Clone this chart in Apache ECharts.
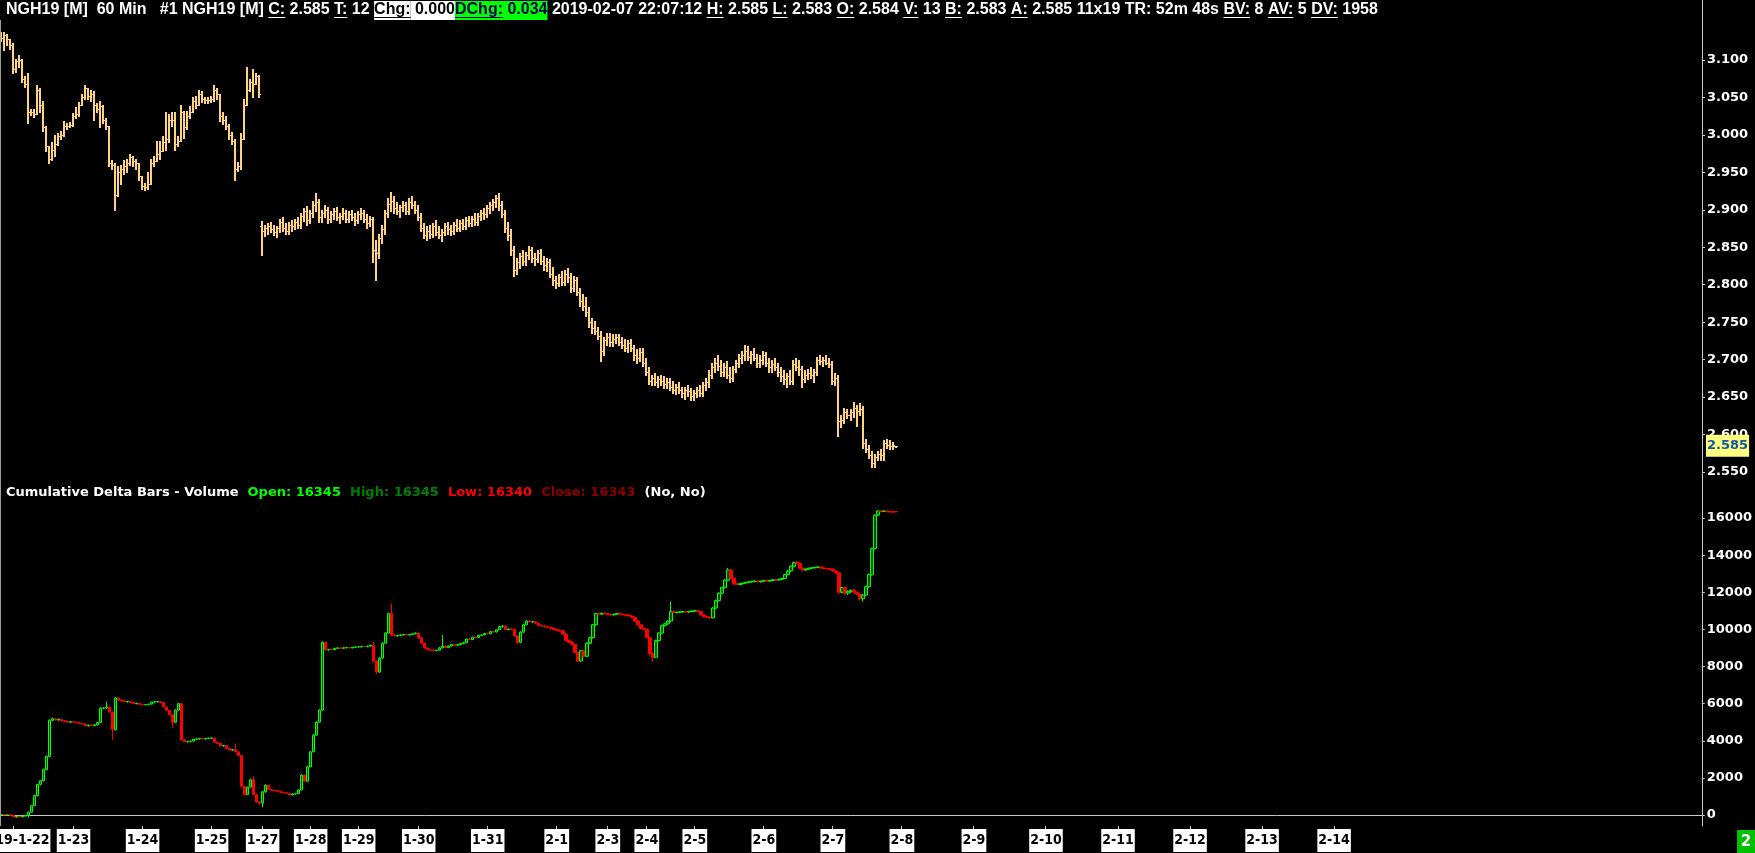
<!DOCTYPE html>
<html><head><meta charset="utf-8">
<script src="https://cdn.jsdelivr.net/npm/echarts@6/dist/echarts.min.js"></script>
<style>html,body{margin:0;padding:0;background:#000;overflow:hidden}#c{width:1755px;height:853px;}</style>
</head><body><div id="c"></div>
<script>
// ---------- DATA ----------
// price bars, hourly, [open, high, low, close]
const priceBars = [
[3.128,3.137,3.125,3.130],[3.130,3.138,3.113,3.133],[3.133,3.135,3.120,3.128],[3.128,3.128,3.115,3.120],[3.120,3.123,3.083,3.088],
[3.088,3.102,3.084,3.098],[3.098,3.107,3.090,3.100],[3.100,3.101,3.070,3.075],[3.075,3.078,3.064,3.068],[3.068,3.083,3.016,3.030],
[3.030,3.035,3.026,3.030],[3.030,3.034,3.024,3.028],[3.028,3.066,3.028,3.060],[3.060,3.062,3.030,3.040],[3.040,3.045,3.005,3.010],
[3.010,3.012,2.978,2.985],[2.985,2.985,2.962,2.968],[2.968,2.990,2.966,2.980],[2.980,3.000,2.972,2.988],[2.988,3.003,2.986,2.998],
[2.998,3.005,2.995,3.000],[3.000,3.018,2.998,3.012],[3.012,3.016,3.008,3.012],[3.012,3.017,3.010,3.013],[3.013,3.029,3.012,3.025],
[3.025,3.037,3.022,3.028],[3.028,3.044,3.025,3.040],[3.040,3.054,3.040,3.050],[3.050,3.067,3.048,3.062],[3.062,3.063,3.048,3.052],
[3.052,3.060,3.045,3.055],[3.055,3.058,3.020,3.040],[3.040,3.042,3.030,3.035],[3.035,3.045,3.010,3.038],[3.038,3.040,3.016,3.020],
[3.020,3.022,3.008,3.012],[3.012,3.012,2.958,2.962],[2.962,2.966,2.955,2.960],[2.960,2.962,2.900,2.920],[2.920,2.958,2.918,2.950],
[2.950,2.960,2.935,2.955],[2.955,2.966,2.948,2.958],[2.958,2.968,2.950,2.962],[2.962,2.975,2.960,2.970],[2.970,2.972,2.958,2.965],
[2.965,2.968,2.955,2.962],[2.962,2.962,2.940,2.945],[2.945,2.945,2.928,2.932],[2.932,2.936,2.926,2.930],[2.930,2.950,2.928,2.935],
[2.935,2.968,2.935,2.962],[2.962,2.972,2.958,2.965],[2.965,2.992,2.965,2.975],[2.975,2.992,2.968,2.978],[2.978,2.998,2.978,2.990],
[2.990,3.030,2.980,2.995],[2.995,3.028,2.990,3.020],[3.020,3.030,3.012,3.020],[3.020,3.030,2.980,2.988],[2.988,2.998,2.985,2.992],
[2.992,3.040,2.992,3.030],[3.030,3.032,2.996,3.010],[3.010,3.032,3.008,3.025],[3.025,3.038,3.022,3.030],[3.030,3.050,3.030,3.045],
[3.045,3.052,3.036,3.040],[3.040,3.060,3.040,3.055],[3.055,3.058,3.044,3.048],[3.048,3.050,3.042,3.046],[3.046,3.050,3.042,3.046],
[3.046,3.052,3.044,3.048],[3.048,3.066,3.045,3.060],[3.060,3.062,3.048,3.055],[3.055,3.055,3.018,3.025],[3.025,3.030,3.015,3.020],
[3.020,3.025,3.008,3.012],[3.012,3.015,2.994,3.000],[3.000,3.004,2.988,2.992],[2.992,2.995,2.940,2.955],[2.955,2.964,2.952,2.958],
[2.958,3.002,2.955,2.995],[2.995,3.048,2.995,3.040],[3.040,3.090,3.040,3.060],[3.060,3.075,3.058,3.070],[3.070,3.088,3.050,3.068],
[3.068,3.083,3.068,3.078],[3.078,3.080,3.050,3.055],
[2.878,2.885,2.840,2.872],[2.872,2.880,2.865,2.876],[2.876,2.882,2.868,2.878],[2.878,2.884,2.870,2.874],[2.874,2.880,2.866,2.870],
[2.870,2.878,2.864,2.876],[2.876,2.888,2.870,2.884],[2.884,2.890,2.872,2.876],[2.876,2.882,2.868,2.872],[2.872,2.884,2.868,2.880],
[2.880,2.886,2.872,2.878],[2.878,2.888,2.874,2.884],[2.884,2.890,2.876,2.880],[2.880,2.896,2.876,2.892],[2.892,2.902,2.885,2.898],
[2.898,2.905,2.880,2.886],[2.886,2.900,2.882,2.896],[2.896,2.912,2.890,2.906],[2.906,2.922,2.898,2.910],[2.910,2.914,2.884,2.890],
[2.890,2.900,2.884,2.896],[2.896,2.906,2.890,2.900],[2.900,2.904,2.882,2.888],[2.888,2.898,2.884,2.894],[2.894,2.902,2.888,2.898],
[2.898,2.904,2.886,2.890],[2.890,2.896,2.882,2.892],[2.892,2.902,2.888,2.896],[2.896,2.900,2.884,2.888],[2.888,2.898,2.884,2.894],
[2.894,2.900,2.886,2.890],[2.890,2.896,2.880,2.886],[2.886,2.898,2.882,2.894],[2.894,2.902,2.888,2.896],[2.896,2.900,2.884,2.888],
[2.888,2.894,2.876,2.882],[2.882,2.892,2.878,2.888],[2.888,2.890,2.830,2.846],[2.846,2.860,2.806,2.842],[2.842,2.868,2.836,2.862],
[2.862,2.880,2.856,2.874],[2.874,2.900,2.868,2.896],[2.896,2.916,2.890,2.908],[2.908,2.924,2.898,2.912],[2.912,2.918,2.896,2.902],
[2.902,2.910,2.894,2.898],[2.898,2.906,2.890,2.904],[2.904,2.912,2.898,2.906],[2.906,2.910,2.894,2.898],[2.898,2.916,2.894,2.910],
[2.910,2.918,2.902,2.906],[2.906,2.912,2.896,2.900],[2.900,2.906,2.886,2.890],[2.890,2.896,2.872,2.876],[2.876,2.882,2.862,2.866],
[2.866,2.878,2.860,2.872],[2.872,2.880,2.862,2.868],[2.868,2.882,2.864,2.878],[2.878,2.886,2.866,2.870],[2.870,2.878,2.862,2.866],
[2.866,2.874,2.858,2.870],[2.870,2.882,2.866,2.878],[2.878,2.884,2.868,2.874],[2.874,2.880,2.866,2.872],[2.872,2.884,2.868,2.880],
[2.880,2.888,2.872,2.876],[2.876,2.886,2.872,2.882],[2.882,2.888,2.874,2.878],[2.878,2.890,2.874,2.886],[2.886,2.892,2.878,2.882],
[2.882,2.892,2.878,2.888],[2.888,2.896,2.880,2.884],[2.884,2.896,2.880,2.892],[2.892,2.900,2.886,2.896],[2.896,2.902,2.888,2.894],
[2.894,2.906,2.890,2.902],[2.902,2.910,2.896,2.906],[2.906,2.914,2.900,2.910],[2.910,2.920,2.904,2.916],[2.916,2.922,2.900,2.906],
[2.906,2.912,2.890,2.894],[2.894,2.900,2.870,2.876],[2.876,2.884,2.860,2.866],[2.866,2.874,2.840,2.846],[2.846,2.852,2.812,2.820],
[2.820,2.836,2.814,2.830],[2.830,2.842,2.822,2.838],[2.838,2.846,2.826,2.832],[2.832,2.844,2.826,2.840],[2.840,2.852,2.834,2.846],
[2.846,2.850,2.830,2.836],[2.836,2.842,2.826,2.834],[2.834,2.846,2.830,2.842],[2.842,2.848,2.828,2.832],[2.832,2.838,2.820,2.826],
[2.826,2.836,2.818,2.830],[2.830,2.834,2.810,2.814],[2.814,2.824,2.800,2.806],[2.806,2.812,2.796,2.802],[2.802,2.814,2.798,2.810],
[2.810,2.818,2.800,2.804],[2.804,2.820,2.800,2.814],[2.814,2.822,2.804,2.810],[2.810,2.816,2.790,2.796],[2.796,2.812,2.792,2.806],
[2.806,2.810,2.786,2.790],[2.790,2.796,2.772,2.778],[2.778,2.788,2.766,2.772],[2.772,2.784,2.758,2.764],[2.764,2.770,2.744,2.750],
[2.750,2.756,2.736,2.742],[2.742,2.752,2.734,2.738],[2.738,2.744,2.728,2.732],[2.732,2.738,2.698,2.712],[2.712,2.730,2.706,2.726],
[2.726,2.736,2.720,2.730],[2.730,2.736,2.718,2.724],[2.724,2.734,2.718,2.728],[2.728,2.734,2.722,2.730],[2.730,2.734,2.720,2.724],
[2.724,2.730,2.716,2.720],[2.720,2.728,2.712,2.716],[2.716,2.726,2.710,2.722],[2.722,2.728,2.712,2.716],[2.716,2.720,2.700,2.706],
[2.706,2.714,2.696,2.702],[2.702,2.716,2.698,2.710],[2.710,2.716,2.692,2.696],[2.696,2.702,2.680,2.684],[2.684,2.690,2.668,2.672],
[2.672,2.680,2.666,2.676],[2.676,2.682,2.666,2.670],[2.670,2.678,2.664,2.674],[2.674,2.680,2.666,2.672],[2.672,2.678,2.662,2.668],
[2.668,2.676,2.662,2.670],[2.670,2.676,2.660,2.664],[2.664,2.672,2.656,2.660],[2.660,2.668,2.654,2.664],[2.664,2.670,2.656,2.660],
[2.660,2.664,2.650,2.656],[2.656,2.664,2.648,2.660],[2.660,2.666,2.652,2.658],[2.658,2.662,2.646,2.652],[2.652,2.660,2.646,2.656],
[2.656,2.664,2.650,2.660],[2.660,2.666,2.652,2.656],[2.656,2.670,2.652,2.666],[2.666,2.676,2.660,2.670],[2.670,2.686,2.664,2.680],
[2.680,2.696,2.676,2.690],[2.690,2.702,2.684,2.696],[2.696,2.706,2.686,2.692],[2.692,2.700,2.678,2.684],[2.684,2.696,2.678,2.690],
[2.690,2.698,2.676,2.680],[2.680,2.690,2.670,2.676],[2.676,2.692,2.672,2.688],[2.688,2.700,2.684,2.696],[2.696,2.708,2.690,2.702],
[2.702,2.712,2.696,2.706],[2.706,2.720,2.700,2.712],[2.712,2.718,2.700,2.704],[2.704,2.712,2.696,2.708],[2.708,2.716,2.700,2.702],
[2.702,2.708,2.690,2.696],[2.696,2.706,2.690,2.700],[2.700,2.712,2.694,2.706],[2.706,2.710,2.692,2.696],[2.696,2.702,2.684,2.690],
[2.690,2.700,2.684,2.694],[2.694,2.702,2.686,2.690],[2.690,2.696,2.678,2.684],[2.684,2.690,2.672,2.678],[2.678,2.686,2.668,2.674],
[2.674,2.682,2.664,2.678],[2.678,2.686,2.668,2.672],[2.672,2.700,2.668,2.694],[2.694,2.702,2.686,2.690],[2.690,2.700,2.680,2.688],
[2.688,2.692,2.664,2.674],[2.674,2.686,2.670,2.680],[2.680,2.688,2.674,2.682],[2.682,2.690,2.676,2.680],[2.680,2.688,2.670,2.684],
[2.684,2.704,2.680,2.700],[2.700,2.706,2.694,2.698],[2.698,2.704,2.692,2.700],[2.700,2.706,2.694,2.696],[2.696,2.702,2.690,2.694],
[2.694,2.698,2.668,2.672],[2.672,2.682,2.666,2.676],[2.676,2.680,2.598,2.618],[2.618,2.626,2.610,2.620],[2.620,2.636,2.616,2.630],
[2.630,2.634,2.622,2.626],[2.626,2.634,2.620,2.630],[2.630,2.644,2.624,2.636],[2.636,2.640,2.612,2.632],[2.632,2.642,2.626,2.634],
[2.634,2.638,2.582,2.588],[2.588,2.594,2.576,2.580],[2.580,2.586,2.568,2.572],[2.572,2.578,2.556,2.562],[2.562,2.574,2.556,2.570],
[2.570,2.578,2.566,2.574],[2.574,2.580,2.566,2.572],[2.572,2.592,2.566,2.588],[2.588,2.594,2.582,2.586],[2.586,2.592,2.580,2.584],
[2.584,2.590,2.580,2.586],[2.584,2.585,2.583,2.585]
];
// cumulative delta bars, hourly, [open, high, low, close]
const deltaBars = [
[0,20,-10,10],[10,20,0,0],[0,10,-10,0],[0,10,-10,-10],[-10,0,-120,-110],[-110,-60,-130,-70],[-70,-50,-120,-100],[-100,-40,-110,-60],
[-60,-20,-80,-30],[-30,180,-140,150],[150,520,140,500],[500,1100,480,1050],[1050,1680,1000,1650],[1650,1900,1600,1850],[1850,2500,1800,2450],
[2450,3200,2400,3150],[3150,5150,3100,5100],[5100,5250,5050,5180],[5180,5230,5100,5120],[5120,5200,5080,5150],[5150,5180,5050,5080],
[5080,5120,5000,5040],[5040,5080,4980,5000],[5000,5050,4960,5020],[5020,5060,4980,5000],[5000,5030,4950,4960],[4960,5000,4900,4920],
[4920,4950,4880,4900],[4900,4920,4790,4800],[4800,4860,4770,4840],[4840,4880,4800,4820],[4820,4880,4790,4860],[4860,5000,4840,4980],
[4980,5800,4960,5750],[5750,5800,5700,5760],[5760,6100,5740,5800],[5800,5850,5500,5550],[5550,5560,4050,4600],[4600,6350,4550,6300],
[6300,6320,6150,6200],[6200,6250,6100,6150],[6150,6180,6080,6100],[6100,6150,6050,6120],[6120,6140,6040,6060],[6060,6100,5980,6000],
[6000,6050,5960,6020],[6020,6040,5940,5960],[5960,5990,5920,5940],[5940,5980,5900,5950],[5950,5990,5920,5970],[5970,6100,5960,6080],
[6080,6130,6050,6100],[6100,6140,6060,6110],[6110,6130,6040,6060],[6060,6080,5800,5820],[5820,5850,5600,5640],[5640,5660,5380,5400],
[5400,5420,4700,5000],[5000,5700,4950,5650],[5650,6050,5600,6000],[6000,6020,4000,4050],[4050,4100,3920,3950],[3950,4000,3900,3960],
[3960,4000,3920,3980],[3980,4100,3960,4080],[4080,4120,4040,4100],[4100,4140,4060,4120],[4120,4150,4080,4100],[4100,4140,4060,4120],
[4120,4160,4090,4140],[4140,4180,4100,4150],[4150,4160,3900,3920],[3920,3940,3840,3860],[3860,3880,3700,3720],[3720,3760,3680,3740],
[3740,3760,3560,3580],[3580,3620,3480,3500],[3500,3540,3460,3520],[3520,3850,3380,3400],[3400,3420,3180,3200],[3200,3220,1500,1550],
[1550,1560,1050,1100],[1100,1520,1080,1500],[1500,1950,1480,1900],[1900,2100,1080,1100],[1100,1150,680,700],[700,720,550,650],
[650,1300,420,1250],[1250,1650,1200,1600],[1600,1620,1350,1380],[1380,1400,1300,1320],[1320,1350,1280,1300],[1300,1330,1250,1280],
[1280,1300,1200,1220],[1220,1250,1170,1200],[1200,1220,1140,1160],[1160,1180,1060,1080],[1080,1150,1060,1130],[1130,1160,1100,1150],
[1150,1380,1130,1350],[1350,2200,1330,2150],[2150,2180,1800,1820],[1820,2650,1800,2600],[2600,3450,2580,3400],[3400,4350,3380,4300],
[4300,5050,4280,5000],[5000,5700,4980,5650],[5650,9350,5620,9300],[9300,9320,8850,8900],[8900,8950,8860,8920],[8920,8960,8880,8900],
[8900,9000,8880,8980],[8980,9020,8950,9000],[9000,9040,8960,8980],[8980,9020,8950,9010],[9010,9050,8980,9030],[9030,9060,8990,9000],
[9000,9050,8980,9040],[9040,9080,9010,9050],[9050,9090,9020,9060],[9060,9100,9030,9080],[9080,9110,9050,9070],[9070,9120,9040,9100],
[9100,9160,9080,9150],[9150,9320,8200,8300],[8300,8320,7600,7700],[7700,8500,7650,8450],[8450,9300,8420,9250],[9250,9850,9230,9800],
[9800,10900,9780,10850],[10850,11400,9650,9700],[9700,9760,9620,9650],[9650,9700,9600,9680],[9680,9720,9640,9700],[9700,9740,9660,9720],
[9720,9760,9680,9700],[9700,9740,9660,9720],[9720,9780,9700,9760],[9760,9820,9730,9800],[9800,9850,9500,9550],[9550,9580,9200,9250],
[9250,9280,8950,9000],[9000,9040,8860,8900],[8900,8940,8840,8880],[8880,8920,8820,8860],[8860,8900,8830,8880],[8880,9050,8860,9000],
[9000,9700,8980,9100],[9100,9150,9000,9020],[9020,9120,9000,9100],[9100,9200,9080,9180],
[9180,9220,9100,9150],[9150,9200,9100,9180],[9180,9260,9150,9240],[9240,9300,9200,9280],[9280,9500,9260,9480],[9480,9520,9420,9450],
[9450,9600,9430,9580],[9580,9620,9540,9560],[9560,9700,9540,9680],[9680,9720,9640,9700],[9700,9800,9680,9780],[9780,9820,9740,9760],
[9760,9900,9740,9880],[9880,9920,9840,9860],[9860,10000,9840,9980],[9980,10200,9960,10150],[10150,10220,10100,10180],[10180,10200,9950,9980],
[9980,10050,9960,10020],[10020,10060,9980,10000],[10000,10040,9600,9650],[9650,9700,9200,9300],[9300,9900,9250,9850],[9850,10300,9820,10250],
[10250,10500,10220,10450],[10450,10480,10380,10400],[10400,10450,10350,10420],[10420,10440,10300,10320],[10320,10360,10200,10220],
[10220,10260,10150,10180],[10180,10220,10100,10150],[10150,10200,10080,10100],[10100,10140,10040,10060],[10060,10100,9950,9980],
[9980,10020,9900,9950],[9950,10000,9880,9920],[9920,9950,9700,9750],[9750,9780,9350,9400],[9400,9450,9250,9300],[9300,9350,9150,9200],
[9200,9220,8700,8750],[8750,8780,8250,8300],[8300,8900,8250,8850],[8850,8900,8500,8550],[8550,9300,8500,9250],[9250,9600,9200,9550],
[9550,10300,9500,10250],[10250,10900,10200,10850],[10850,10920,10780,10820],[10820,10900,10780,10870],[10870,10920,10800,10840],
[10840,10880,10760,10800],[10800,10850,10740,10780],[10780,10840,10750,10820],[10820,10880,10790,10860],[10860,10900,10800,10820],
[10820,10860,10760,10790],[10790,10830,10740,10760],[10760,10800,10700,10720],[10720,10760,10620,10640],[10640,10680,10420,10450],
[10450,10480,10200,10250],[10250,10280,10000,10050],[10050,10100,9950,10000],[10000,10050,9500,9550],[9550,9600,8600,8700],
[8700,8750,8250,8500],[8500,9450,8450,9400],[9400,9850,9350,9800],[9800,10250,9780,10200],[10200,10350,10150,10300],[10300,10500,10250,10450],
[10450,11500,10400,10950],[10950,11000,10850,10900],[10900,10960,10860,10920],[10920,10980,10880,10950],[10950,11000,10900,10960],
[10960,11000,10900,10940],[10940,10990,10900,10970],[10970,11020,10930,10990],[10990,11050,10950,11000],[11000,11040,10940,10960],
[10960,10980,10750,10780],[10780,10800,10650,10680],[10680,10720,10600,10650],[10650,10700,10580,10620],[10620,11200,10600,11150],
[11150,11600,11100,11550],[11550,12000,11500,11950],[11950,12300,11900,12250],[12250,12700,12200,12650],[12650,13300,12600,13200],
[13200,13250,12700,12750],[12750,12800,12400,12450],[12450,12500,12380,12420],[12420,12480,12380,12460],[12460,12520,12420,12500],
[12500,12560,12460,12540],[12540,12600,12500,12560],[12560,12620,12520,12580],[12580,12640,12540,12600],[12600,12640,12540,12560],
[12560,12620,12520,12600],[12600,12660,12560,12640],[12640,12680,12580,12600],[12600,12660,12560,12640],[12640,12700,12600,12680],
[12680,12720,12620,12660],[12660,12720,12620,12700],[12700,12760,12660,12740],[12740,13000,12720,12950],[12950,13200,12920,13150],
[13150,13450,13100,13400],[13400,13650,13350,13600],[13600,13700,13500,13550],[13550,13600,13250,13300],[13300,13350,13150,13200],
[13200,13280,13150,13250],[13250,13320,13200,13300],[13300,13360,13250,13320],[13320,13380,13280,13340],[13340,13400,13300,13360],
[13360,13400,13280,13300],[13300,13340,13240,13280],[13280,13320,13220,13260],[13260,13300,13200,13240],[13240,13280,13100,13150],
[13150,13180,13000,13050],[13050,13080,11900,12000],[12000,12300,11950,12250],[12250,12280,11900,11950],[11950,12100,11850,12050],
[12050,12150,11950,12100],[12100,12200,11980,12000],[12000,12050,11850,11900],[11900,11950,11550,11650],[11650,11900,11500,11850],
[11850,12350,11800,12300],[12300,13000,12250,12950],[12950,14400,12900,14350],[14350,16200,14300,16150],[16150,16420,16100,16380],
[16380,16420,16300,16350],[16350,16400,16320,16380],[16380,16400,16320,16340],[16340,16380,16300,16330],[16330,16360,16290,16320],
[16345,16345,16340,16343]
];
// date labels at hourly-slot index
const dateLabels = {4:'2019-1-22',24:'1-23',47:'1-24',70:'1-25',87:'1-27',103:'1-28',119:'1-29',139:'1-30',162:'1-31',
  185:'2-1',202:'2-3',215:'2-4',231:'2-5',254:'2-6',277:'2-7',300:'2-8',324:'2-9',348:'2-10',372:'2-11',396:'2-12',420:'2-13',444:'2-14'};
const priceTicks = [2.55,2.60,2.65,2.70,2.75,2.80,2.85,2.90,2.95,3.00,3.05,3.10];
const deltaTicks = [0,2000,4000,6000,8000,10000,12000,14000,16000];
const lastPrice = 2.585;
const headerParts = [
  ['NGH19 [M]  60 Min   #1 NGH19 [M] ','t'],['C:','u'],[' 2.585 ','t'],['T:','u'],[' 12 ','t'],
  ['Chg:','wu'],[' 0.000','w'],['DChg:','gu'],[' 0.034','g'],
  [' 2019-02-07 22:07:12 ','t'],['H:','u'],[' 2.585 ','t'],['L:','u'],[' 2.583 ','t'],['O:','u'],[' 2.584 ','t'],
  ['V:','u'],[' 13 ','t'],['B:','u'],[' 2.583 ','t'],['A:','u'],[' 2.585 11x19 TR: 52m 48s ','t'],
  ['BV:','u'],[' 8 ','t'],['AV:','u'],[' 5 ','t'],['DV:','u'],[' 1958','t']
];
const paneTitleParts = [
  ['Cumulative Delta Bars - Volume','#ffffff'],['Open: 16345','#00ff00'],['High: 16345','#008000'],
  ['Low: 16340','#ff0000'],['Close: 16343','#8b0000'],['(No, No)','#ffffff']
];
const chartNumber = '2';

// ---------- LAYOUT / STYLE ----------
const SLOTS = 567;
const categories = Array.from({length: SLOTS}, (_, i) => String(i));
const PRICE_COLOR = '#ffd27f';
const AXIS_COLOR = '#c8c8c8';
const AXIS_FONT = {color:'#ffffff', fontFamily:'DejaVu Sans', fontWeight:'bold', fontSize:13};

const chart = echarts.init(document.getElementById('c'), null, {renderer:'canvas'});
chart.setOption({
  animation: false,
  backgroundColor: '#000000',
  grid: [
    {left:0, right:53, top:0, height:480},
    {left:0, right:53, top:480, height:346}
  ],
  xAxis: [
    {type:'category', gridIndex:0, data:categories, boundaryGap:true, show:false},
    {type:'category', gridIndex:1, data:categories, boundaryGap:true,
     axisLine:{show:true, lineStyle:{color:AXIS_COLOR, width:1}},
     axisTick:{show:false}, axisLabel:{show:false}, splitLine:{show:false}}
  ],
  yAxis: [
    {type:'value', gridIndex:0, position:'right', min:3.1-420/749, max:3.1+60/749, scale:true,
     axisLine:{show:true, lineStyle:{color:AXIS_COLOR}},
     axisTick:{show:true, length:3, customValues:priceTicks, lineStyle:{color:AXIS_COLOR}},
     axisLabel:Object.assign({show:true, margin:5, customValues:priceTicks, formatter:(v)=>v.toFixed(3)}, AXIS_FONT),
     splitLine:{show:false}},
    {type:'value', gridIndex:1, position:'right', min:-11*16000/297, max:335*16000/297,
     axisLine:{show:true, lineStyle:{color:AXIS_COLOR}},
     axisTick:{show:true, length:3, customValues:deltaTicks, lineStyle:{color:AXIS_COLOR}},
     axisLabel:Object.assign({show:true, margin:5, customValues:deltaTicks, formatter:(v)=>String(Math.round(v))}, AXIS_FONT),
     splitLine:{show:false}}
  ],
  series: [
    {type:'custom', xAxisIndex:0, yAxisIndex:0, clip:true,
     data: priceBars.map((b,i)=>[i,b[0],b[1],b[2],b[3]]),
     encode:{x:0, y:[1,2,3,4]},
     renderItem:(params, api)=>{
       const i = api.value(0);
       const o = api.coord([i, api.value(1)]);
       const h = api.coord([i, api.value(2)]);
       const l = api.coord([i, api.value(3)]);
       const c = api.coord([i, api.value(4)]);
       const x = Math.floor(h[0]);
       const yh = Math.round(h[1]), yl = Math.round(l[1]);
       return {type:'group', children:[
         {type:'rect', shape:{x:x-1, y:yh, width:2, height:Math.max(1, yl-yh+1)}, style:{fill:PRICE_COLOR}},
         {type:'rect', shape:{x:x-2, y:Math.round(o[1]), width:1, height:1}, style:{fill:PRICE_COLOR}},
         {type:'rect', shape:{x:x+1, y:Math.round(c[1]), width:1, height:1}, style:{fill:PRICE_COLOR}}
       ]};
     }},
    {type:'candlestick', xAxisIndex:1, yAxisIndex:1, barWidth:3,
     data: deltaBars.map(b=>[b[0], b[3], b[2], b[1]]),
     itemStyle:{color:'#005000', color0:'#ff0000', borderColor:'#00ff00', borderColor0:'#ff0000', borderWidth:1}}
  ]
});

// ---------- TEXT / AXIS OVERLAYS ----------
const mctx = document.createElement('canvas').getContext('2d');
function tw(text, font){ mctx.font = font; return mctx.measureText(text).width; }
const graphics = [];
const HFONT = 'bold 16px "Liberation Sans"';
let hx = 6; const hy = 10;
headerParts.forEach(([text, kind])=>{
  const w = tw(text, HFONT);
  let fill = '#ffffff';
  if (kind[0]==='w' || kind[0]==='g') {
    graphics.push({type:'rect', shape:{x:hx, y:1, width:w, height:19}, style:{fill: kind[0]==='w' ? '#ffffff' : '#00ff00'}, z:10});
    fill = kind[0]==='w' ? '#000000' : '#000050';
  }
  graphics.push({type:'text', x:hx, y:hy, style:{text, fill, font:HFONT, verticalAlign:'middle', align:'left'}, z:11});
  if (kind.indexOf('u')>=0) {
    graphics.push({type:'rect', shape:{x:hx, y:17, width:w, height:1}, style:{fill: fill}, z:12});
  }
  hx += w;
});
// pane title
const PFONT = 'bold 13px "DejaVu Sans"';
let px = 6;
paneTitleParts.forEach(([text, color])=>{
  graphics.push({type:'text', x:px, y:493, style:{text, fill:color, font:PFONT, verticalAlign:'middle', align:'left'}, z:11});
  px += tw(text, PFONT) + tw('  ', PFONT);
});
// date ticks + labels, positioned through the category axis scale
const axisY = 826;
const DFONT = 'bold 14px "DejaVu Sans Condensed"';
Object.keys(dateLabels).forEach(k=>{
  const idx = Number(k);
  const cx = chart.convertToPixel({xAxisIndex:1}, idx);
  graphics.push({type:'rect', shape:{x:Math.floor(cx), y:axisY, width:1, height:4}, style:{fill:AXIS_COLOR}, z:15});
  graphics.push({type:'text', x:cx, y:840.5, style:{text:dateLabels[k], fill:'#000000', font:DFONT,
    align:'center', verticalAlign:'middle', backgroundColor:'#ffffff', padding:[4,1,3,1], lineHeight:16}, z:16});
});
// last price box
const lpY = chart.convertToPixel({yAxisIndex:0}, lastPrice);
const axisX = 1702;
const LFONT = 'bold 13px "DejaVu Sans"';
const lpW = tw(lastPrice.toFixed(3), LFONT) + 2;
graphics.push({type:'rect', shape:{x:axisX+4, y:lpY-11, width:lpW, height:22}, style:{fill:'#ffff80'}, z:20});
graphics.push({type:'text', x:axisX+5, y:lpY, style:{text:lastPrice.toFixed(3), fill:'#1058a8', font:LFONT, verticalAlign:'middle'}, z:21});
// left border line
graphics.push({type:'rect', shape:{x:0, y:20, width:1, height:806}, style:{fill:'#a0a0a0'}, z:5});
// chart number badge
graphics.push({type:'rect', shape:{x:1737, y:830, width:18, height:23}, style:{fill:'#00c000'}, z:20});
graphics.push({type:'text', x:1746, y:842, style:{text:chartNumber, fill:'#ffffff', font:'bold 15px "DejaVu Sans"', align:'center', verticalAlign:'middle'}, z:21});

chart.setOption({graphic: graphics});
</script></body></html>
